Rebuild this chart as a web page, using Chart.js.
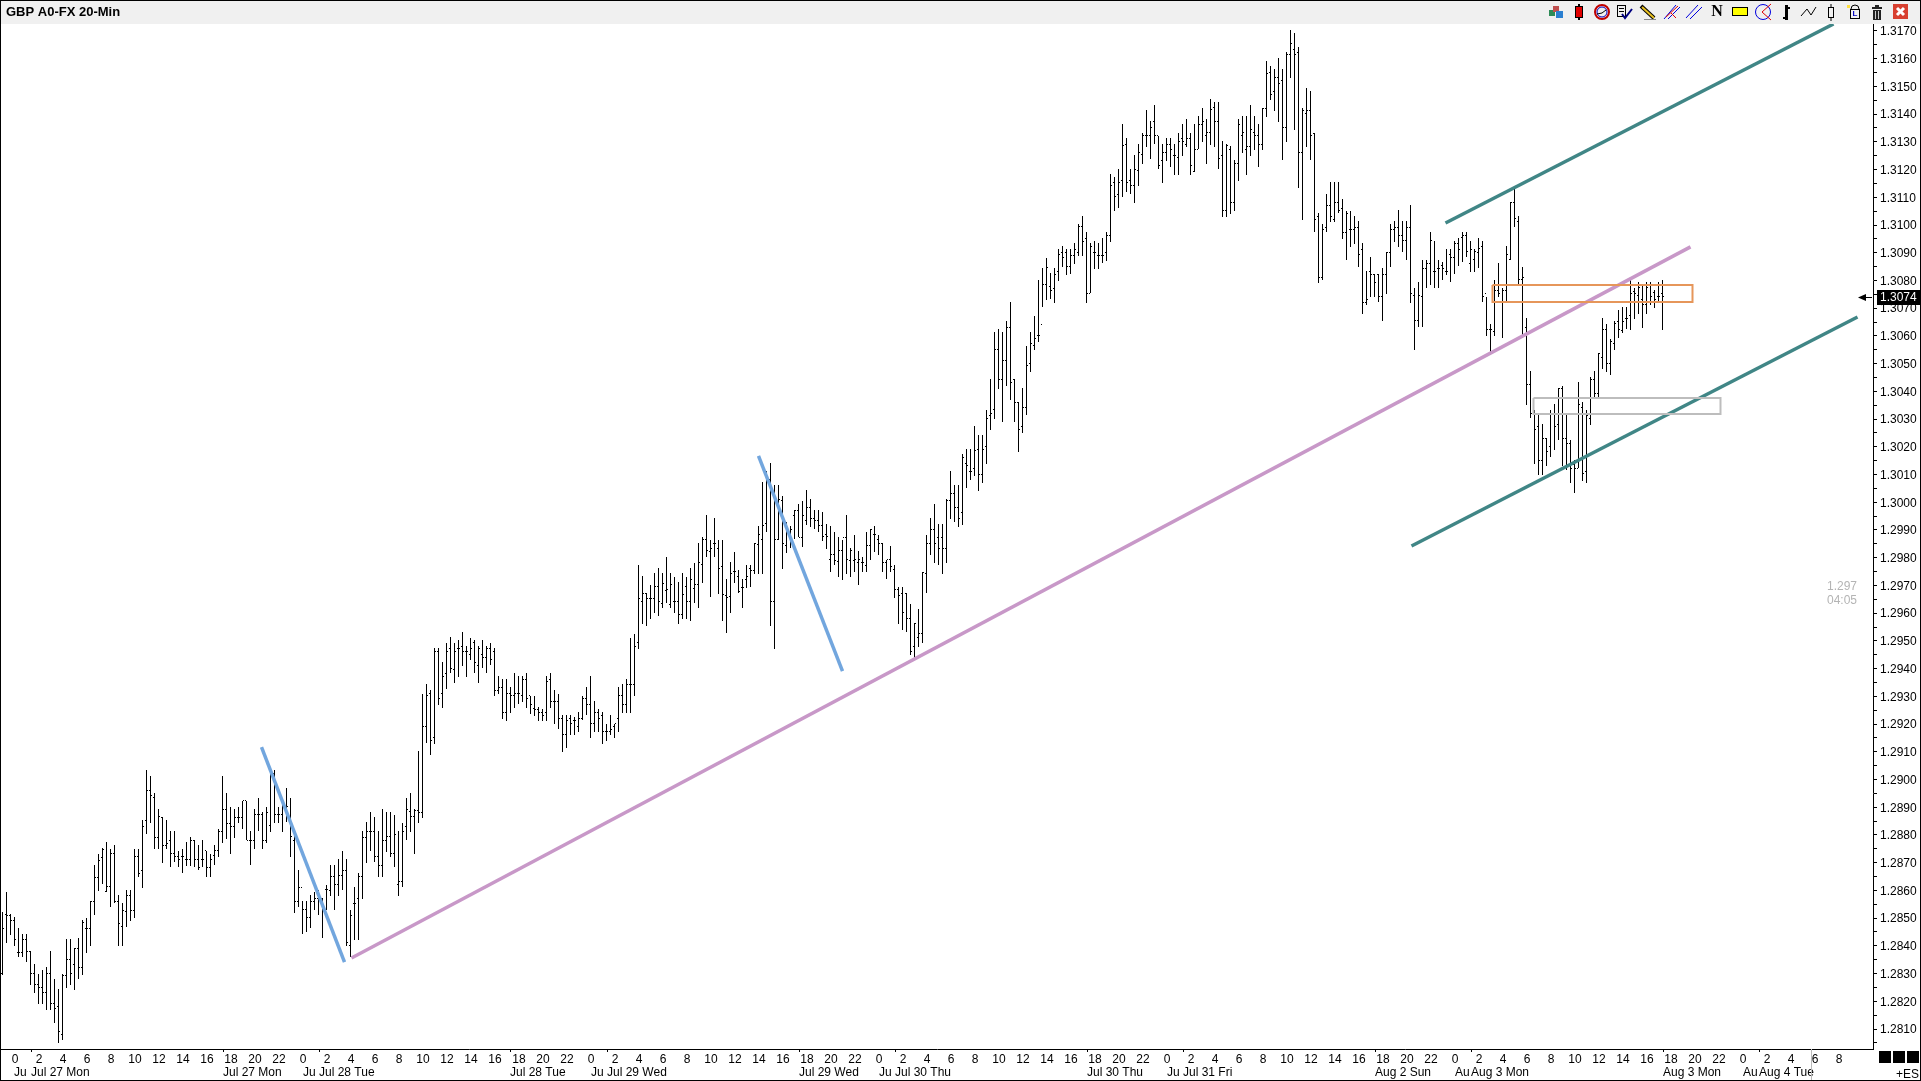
<!DOCTYPE html>
<html>
<head>
<meta charset="utf-8">
<title>GBP A0-FX 20-Min</title>
<script src="https://cdn.jsdelivr.net/npm/chart.js"></script>
<style>
  body { margin: 0; background: #fff; overflow: hidden; }
  canvas { display: block; }
</style>
</head>
<body>
<canvas id="chart" width="1921" height="1081"></canvas>
<script>
// 20 minute bars
const highs = [
1.28523,1.28595,1.28514,1.28505,1.28463,1.28442,1.28442,1.28381,1.28333,1.28300,
1.28312,1.28322,1.28381,1.28282,1.28244,1.28300,1.28423,1.28423,1.28393,1.28430,
1.28493,1.28502,1.28561,1.28691,1.28733,1.28753,1.28773,1.28751,1.28763,1.28583,
1.28553,1.28601,1.28601,1.28751,1.28751,1.28854,1.29034,1.29012,1.28953,1.28892,
1.28866,1.28854,1.28814,1.28814,1.28743,1.28751,1.28773,1.28791,1.28781,1.28763,
1.28781,1.28743,1.28733,1.28763,1.28820,1.29012,1.28953,1.28902,1.28892,1.28902,
1.28923,1.28923,1.28814,1.28892,1.28933,1.28884,1.28902,1.29041,1.29034,1.28902,
1.28923,1.28971,1.28933,1.28803,1.28673,1.28561,1.28561,1.28583,1.28593,1.28601,
1.28571,1.28619,1.28691,1.28691,1.28713,1.28743,1.28713,1.28531,1.28613,1.28661,
1.28814,1.28845,1.28884,1.28863,1.28814,1.28892,1.28884,1.28884,1.28872,1.28814,
1.28842,1.28932,1.28953,1.28892,1.29102,1.29310,1.29344,1.29322,1.29473,1.29473,
1.29425,1.29493,1.29515,1.29491,1.29503,1.29532,1.29481,1.29512,1.29503,1.29481,
1.29503,1.29481,1.29493,1.29473,1.29373,1.29362,1.29362,1.29332,1.29383,1.29373,
1.29373,1.29383,1.29303,1.29303,1.29260,1.29253,1.29373,1.29383,1.29322,1.29310,
1.29232,1.29232,1.29232,1.29224,1.29242,1.29303,1.29332,1.29373,1.29283,1.29253,
1.29242,1.29202,1.29232,1.29202,1.29332,1.29344,1.29361,1.29512,1.29525,1.29774,
1.29734,1.29672,1.29702,1.29744,1.29762,1.29744,1.29802,1.29744,1.29732,1.29713,
1.29744,1.29732,1.29762,1.29780,1.29852,1.29874,1.29954,1.29864,1.29942,1.29864,
1.29864,1.29722,1.29786,1.29822,1.29754,1.29722,1.29774,1.29774,1.29852,1.29915,
1.30072,1.30113,1.30141,1.30063,1.30063,1.30023,1.29930,1.29915,1.29972,1.29993,
1.30005,1.30045,1.30012,1.29972,1.29972,1.29964,1.29922,1.29915,1.29892,1.29874,
1.29864,1.29954,1.29834,1.29882,1.29825,1.29804,1.29892,1.29903,1.29915,1.29882,
1.29852,1.29792,1.29843,1.29774,1.29696,1.29696,1.29672,1.29633,1.29566,1.29615,
1.29750,1.29882,1.29942,1.29994,1.29922,1.29922,1.30011,1.30113,1.30063,1.30063,
1.30174,1.30192,1.30192,1.30275,1.30243,1.30243,1.30333,1.30445,1.30613,1.30625,
1.30613,1.30654,1.30722,1.30444,1.30361,1.30411,1.30564,1.30613,1.30673,1.30802,
1.30845,1.30881,1.30826,1.30846,1.30913,1.30924,1.30913,1.30913,1.30934,1.31002,
1.31032,1.30974,1.30934,1.30942,1.30934,1.30952,1.30974,1.31184,1.31172,1.31202,
1.31364,1.31313,1.31202,1.31253,1.31292,1.31333,1.31415,1.31375,1.31433,1.31322,
1.31292,1.31313,1.31313,1.31292,1.31333,1.31364,1.31382,1.31333,1.31364,1.31393,
1.31421,1.31382,1.31453,1.31443,1.31443,1.31303,1.31291,1.31285,1.31234,1.31382,
1.31393,1.31393,1.31433,1.31393,1.31363,1.31421,1.31592,1.31574,1.31563,1.31603,
1.31563,1.31623,1.31704,1.31692,1.31641,1.31421,1.31493,1.31484,1.31331,1.31043,
1.31003,1.31112,1.31154,1.31154,1.31154,1.31094,1.31052,1.31052,1.31033,1.31014,
1.30934,1.30835,1.30884,1.30823,1.30823,1.30844,1.30902,1.31003,1.31015,1.31055,
1.31015,1.31015,1.31073,1.30772,1.30794,1.30874,1.30874,1.30974,1.30943,1.30874,
1.30865,1.30913,1.30913,1.30943,1.30952,1.30974,1.30974,1.30943,1.30913,1.30952,
1.30943,1.30742,1.30643,1.30802,1.30862,1.30772,1.30925,1.31082,1.31135,1.31033,
1.30850,1.30664,1.30474,1.30333,1.30321,1.30283,1.30233,1.30333,1.30354,1.30411,
1.30421,1.30315,1.30225,1.30153,1.30433,1.30361,1.30331,1.30451,1.30474,1.30540,
1.30664,1.30643,1.30588,1.30655,1.30694,1.30704,1.30704,1.30802,1.30772,1.30794,
1.30784,1.30794,1.30794,1.30764,1.30794,1.30802];
const lows = [
1.28294,1.28411,1.28439,1.28400,1.28361,1.28361,1.28340,1.28258,1.28231,1.28192,
1.28192,1.28168,1.28168,1.28120,1.28050,1.28062,1.28249,1.28258,1.28240,1.28282,
1.28294,1.28373,1.28400,1.28513,1.28599,1.28623,1.28593,1.28541,1.28553,1.28400,
1.28400,1.28469,1.28490,1.28501,1.28649,1.28609,1.28802,1.28842,1.28751,1.28751,
1.28700,1.28751,1.28683,1.28703,1.28683,1.28661,1.28688,1.28688,1.28683,1.28673,
1.28683,1.28649,1.28649,1.28690,1.28721,1.28772,1.28787,1.28733,1.28790,1.28842,
1.28823,1.28781,1.28690,1.28751,1.28814,1.28751,1.28772,1.28811,1.28842,1.28842,
1.28811,1.28848,1.28721,1.28519,1.28541,1.28441,1.28451,1.28463,1.28531,1.28511,
1.28430,1.28529,1.28579,1.28529,1.28579,1.28601,1.28399,1.28361,1.28421,1.28421,
1.28569,1.28700,1.28743,1.28703,1.28649,1.28649,1.28739,1.28721,1.28683,1.28579,
1.28611,1.28781,1.28811,1.28731,1.28842,1.28862,1.29130,1.29088,1.29128,1.29268,
1.29259,1.29328,1.29383,1.29349,1.29371,1.29409,1.29371,1.29431,1.29383,1.29349,
1.29403,1.29383,1.29413,1.29301,1.29310,1.29219,1.29212,1.29241,1.29259,1.29271,
1.29280,1.29259,1.29238,1.29229,1.29212,1.29212,1.29212,1.29259,1.29202,1.29181,
1.29100,1.29112,1.29160,1.29160,1.29172,1.29214,1.29232,1.29151,1.29172,1.29172,
1.29128,1.29140,1.29160,1.29151,1.29172,1.29241,1.29241,1.29241,1.29301,1.29471,
1.29561,1.29552,1.29579,1.29600,1.29590,1.29620,1.29636,1.29620,1.29600,1.29561,
1.29579,1.29579,1.29570,1.29636,1.29620,1.29708,1.29802,1.29660,1.29801,1.29669,
1.29570,1.29530,1.29602,1.29710,1.29672,1.29620,1.29690,1.29694,1.29742,1.29742,
1.29742,1.29891,1.29552,1.29471,1.29864,1.29760,1.29816,1.29834,1.29867,1.29873,
1.29840,1.29918,1.29910,1.29904,1.29891,1.29861,1.29832,1.29750,1.29772,1.29732,
1.29720,1.29740,1.29732,1.29750,1.29700,1.29750,1.29750,1.29790,1.29822,1.29810,
1.29750,1.29722,1.29750,1.29654,1.29561,1.29540,1.29531,1.29449,1.29431,1.29477,
1.29494,1.29672,1.29810,1.29782,1.29772,1.29742,1.29782,1.29940,1.29930,1.29912,
1.29918,1.30053,1.30081,1.30093,1.30042,1.30071,1.30138,1.30261,1.30301,1.30409,
1.30291,1.30420,1.30369,1.30291,1.30183,1.30251,1.30313,1.30471,1.30550,1.30577,
1.30704,1.30730,1.30732,1.30720,1.30799,1.30850,1.30820,1.30822,1.30859,1.30889,
1.30889,1.30720,1.30753,1.30841,1.30841,1.30862,1.30870,1.30940,1.31052,1.31063,
1.31102,1.31120,1.31111,1.31081,1.31142,1.31220,1.31283,1.31238,1.31291,1.31201,
1.31153,1.31232,1.31210,1.31180,1.31180,1.31250,1.31283,1.31180,1.31192,1.31273,
1.31301,1.31220,1.31289,1.31283,1.31201,1.31030,1.31030,1.31040,1.31052,1.31160,
1.31261,1.31180,1.31250,1.31271,1.31210,1.31271,1.31391,1.31451,1.31413,1.31373,
1.31233,1.31301,1.31532,1.31341,1.31132,1.31018,1.31283,1.31233,1.30973,1.30792,
1.30800,1.30974,1.31012,1.31012,1.31043,1.30951,1.30872,1.30922,1.30932,1.30850,
1.30680,1.30712,1.30742,1.30742,1.30722,1.30652,1.30752,1.30850,1.30940,1.30922,
1.30901,1.30872,1.30720,1.30550,1.30631,1.30631,1.30772,1.30782,1.30772,1.30772,
1.30802,1.30820,1.30793,1.30823,1.30853,1.30865,1.30883,1.30832,1.30832,1.30844,
1.30722,1.30601,1.30532,1.30601,1.30742,1.30592,1.30724,1.30872,1.30992,1.30781,
1.30592,1.30351,1.30303,1.30138,1.30099,1.30099,1.30131,1.30162,1.30189,1.30223,
1.30131,1.30117,1.30071,1.30033,1.30123,1.30075,1.30071,1.30279,1.30381,1.30381,
1.30481,1.30471,1.30459,1.30550,1.30592,1.30612,1.30624,1.30622,1.30661,1.30680,
1.30630,1.30680,1.30712,1.30702,1.30722,1.30622];
const opens = [
1.28300,1.28514,1.28511,1.28493,1.28375,1.28375,1.28423,1.28381,1.28300,1.28262,
1.28250,1.28232,1.28300,1.28192,1.28180,1.28080,1.28294,1.28351,1.28334,1.28391,
1.28322,1.28463,1.28463,1.28561,1.28647,1.28719,1.28595,1.28613,1.28733,1.28559,
1.28471,1.28523,1.28583,1.28529,1.28721,1.28673,1.28851,1.28962,1.28935,1.28791,
1.28863,1.28763,1.28779,1.28733,1.28721,1.28721,1.28713,1.28713,1.28781,1.28713,
1.28713,1.28743,1.28683,1.28727,1.28743,1.28814,1.28892,1.28842,1.28832,1.28863,
1.28863,1.28923,1.28781,1.28781,1.28874,1.28874,1.28781,1.28833,1.29022,1.28872,
1.28872,1.28902,1.28848,1.28781,1.28559,1.28611,1.28531,1.28502,1.28561,1.28571,
1.28571,1.28603,1.28601,1.28649,1.28623,1.28652,1.28673,1.28403,1.28553,1.28571,
1.28649,1.28791,1.28814,1.28814,1.28724,1.28691,1.28781,1.28793,1.28733,1.28623,
1.28631,1.28832,1.28884,1.28866,1.28890,1.28881,1.29191,1.29310,1.29152,1.29462,
1.29310,1.29383,1.29473,1.29395,1.29473,1.29481,1.29462,1.29451,1.29493,1.29413,
1.29451,1.29440,1.29473,1.29461,1.29320,1.29332,1.29242,1.29310,1.29303,1.29310,
1.29303,1.29361,1.29303,1.29256,1.29253,1.29242,1.29242,1.29361,1.29283,1.29283,
1.29220,1.29163,1.29220,1.29214,1.29193,1.29220,1.29292,1.29271,1.29202,1.29242,
1.29232,1.29172,1.29172,1.29193,1.29220,1.29303,1.29271,1.29344,1.29344,1.29494,
1.29642,1.29672,1.29654,1.29654,1.29696,1.29636,1.29681,1.29633,1.29642,1.29642,
1.29594,1.29696,1.29642,1.29690,1.29702,1.29774,1.29864,1.29822,1.29852,1.29834,
1.29770,1.29662,1.29660,1.29750,1.29732,1.29694,1.29720,1.29762,1.29754,1.29846,
1.29864,1.29924,1.30083,1.29642,1.29864,1.30005,1.29843,1.29882,1.29954,1.29972,
1.29873,1.29933,1.29982,1.29942,1.29933,1.29915,1.29882,1.29792,1.29813,1.29786,
1.29825,1.29873,1.29790,1.29790,1.29784,1.29784,1.29772,1.29843,1.29882,1.29864,
1.29852,1.29784,1.29792,1.29756,1.29684,1.29672,1.29672,1.29582,1.29479,1.29513,
1.29525,1.29744,1.29852,1.29903,1.29874,1.29874,1.29834,1.30005,1.30033,1.29982,
1.29964,1.30141,1.30111,1.30123,1.30191,1.30101,1.30201,1.30312,1.30333,1.30552,
1.30444,1.30511,1.30631,1.30444,1.30361,1.30273,1.30343,1.30502,1.30564,1.30601,
1.30640,1.30784,1.30778,1.30772,1.30832,1.30901,1.30901,1.30852,1.30891,1.30901,
1.30993,1.30952,1.30753,1.30901,1.30891,1.30891,1.30901,1.30962,1.31154,1.31111,
1.31162,1.31292,1.31162,1.31142,1.31195,1.31253,1.31322,1.31322,1.31373,1.31322,
1.31232,1.31262,1.31291,1.31251,1.31242,1.31313,1.31291,1.31313,1.31192,1.31273,
1.31363,1.31322,1.31333,1.31423,1.31373,1.31250,1.31053,1.31273,1.31082,1.31222,
1.31322,1.31273,1.31283,1.31333,1.31322,1.31291,1.31421,1.31551,1.31481,1.31533,
1.31521,1.31353,1.31614,1.31634,1.31623,1.31263,1.31403,1.31413,1.31331,1.31031,
1.30812,1.30992,1.31071,1.31021,1.31082,1.31061,1.30974,1.30982,1.30982,1.30992,
1.30913,1.30722,1.30832,1.30823,1.30823,1.30742,1.30823,1.30902,1.30983,1.30992,
1.30963,1.30943,1.30992,1.30744,1.30654,1.30742,1.30844,1.30862,1.30832,1.30843,
1.30854,1.30832,1.30892,1.30884,1.30934,1.30954,1.30963,1.30862,1.30874,1.30902,
1.30922,1.30754,1.30624,1.30616,1.30762,1.30722,1.30764,1.30874,1.31082,1.31013,
1.30802,1.30631,1.30423,1.30321,1.30273,1.30150,1.30231,1.30201,1.30321,1.30279,
1.30411,1.30231,1.30213,1.30135,1.30123,1.30343,1.30111,1.30303,1.30444,1.30393,
1.30523,1.30624,1.30502,1.30574,1.30652,1.30619,1.30664,1.30672,1.30760,1.30744,
1.30732,1.30714,1.30784,1.30756,1.30742,1.30754];
const closes = [
1.28463,1.28511,1.28493,1.28424,1.28375,1.28423,1.28381,1.28300,1.28262,1.28250,
1.28232,1.28300,1.28192,1.28174,1.28090,1.28294,1.28351,1.28300,1.28391,1.28322,
1.28483,1.28463,1.28561,1.28647,1.28709,1.28748,1.28613,1.28733,1.28559,1.28481,
1.28529,1.28583,1.28529,1.28721,1.28661,1.28832,1.28962,1.28944,1.28791,1.28866,
1.28761,1.28769,1.28733,1.28721,1.28713,1.28721,1.28713,1.28781,1.28713,1.28683,
1.28713,1.28683,1.28712,1.28743,1.28814,1.28892,1.28842,1.28832,1.28863,1.28863,
1.28923,1.28781,1.28781,1.28874,1.28874,1.28781,1.28881,1.29022,1.28872,1.28872,
1.28914,1.28902,1.28793,1.28559,1.28611,1.28531,1.28502,1.28561,1.28571,1.28583,
1.28541,1.28603,1.28649,1.28623,1.28652,1.28673,1.28411,1.28511,1.28553,1.28649,
1.28791,1.28814,1.28814,1.28724,1.28691,1.28781,1.28793,1.28733,1.28803,1.28631,
1.28814,1.28892,1.28866,1.28890,1.28881,1.29191,1.29303,1.29142,1.29462,1.29292,
1.29373,1.29462,1.29401,1.29462,1.29473,1.29462,1.29462,1.29473,1.29422,1.29473,
1.29440,1.29473,1.29433,1.29322,1.29332,1.29242,1.29310,1.29303,1.29310,1.29310,
1.29361,1.29292,1.29271,1.29253,1.29242,1.29232,1.29353,1.29283,1.29283,1.29220,
1.29163,1.29214,1.29202,1.29214,1.29220,1.29292,1.29271,1.29202,1.29242,1.29220,
1.29172,1.29172,1.29182,1.29202,1.29303,1.29271,1.29344,1.29344,1.29481,1.29654,
1.29672,1.29654,1.29654,1.29696,1.29642,1.29706,1.29684,1.29702,1.29642,1.29594,
1.29669,1.29642,1.29722,1.29702,1.29784,1.29864,1.29825,1.29834,1.29852,1.29762,
1.29669,1.29657,1.29744,1.29752,1.29678,1.29694,1.29734,1.29754,1.29852,1.29882,
1.29915,1.30083,1.29642,1.29864,1.30011,1.29852,1.29903,1.29903,1.29972,1.29873,
1.29954,1.29982,1.29942,1.29933,1.29915,1.29876,1.29876,1.29810,1.29790,1.29825,
1.29873,1.29792,1.29825,1.29792,1.29792,1.29783,1.29843,1.29900,1.29882,1.29852,
1.29784,1.29792,1.29770,1.29684,1.29662,1.29603,1.29582,1.29461,1.29564,1.29525,
1.29748,1.29852,1.29903,1.29852,1.29834,1.29834,1.30005,1.30033,1.29982,1.29942,
1.30162,1.30132,1.30111,1.30185,1.30101,1.30191,1.30303,1.30321,1.30552,1.30444,
1.30511,1.30631,1.30433,1.30361,1.30263,1.30343,1.30493,1.30574,1.30592,1.30603,
1.30784,1.30845,1.30762,1.30822,1.30892,1.30883,1.30852,1.30891,1.30912,1.30993,
1.30942,1.30753,1.30924,1.30901,1.30891,1.30891,1.30962,1.31142,1.31102,1.31154,
1.31285,1.31154,1.31142,1.31201,1.31262,1.31322,1.31322,1.31352,1.31322,1.31213,
1.31262,1.31291,1.31271,1.31251,1.31303,1.31303,1.31313,1.31213,1.31273,1.31363,
1.31373,1.31333,1.31415,1.31373,1.31240,1.31053,1.31285,1.31082,1.31222,1.31363,
1.31333,1.31283,1.31343,1.31322,1.31291,1.31421,1.31545,1.31472,1.31533,1.31512,
1.31353,1.31614,1.31653,1.31614,1.31263,1.31413,1.31413,1.31323,1.31021,1.30812,
1.30982,1.31071,1.31031,1.31082,1.31052,1.30974,1.31043,1.30982,1.30992,1.30892,
1.30722,1.30732,1.30823,1.30794,1.30742,1.30823,1.30902,1.30983,1.30992,1.30963,
1.30943,1.30992,1.30754,1.30654,1.30744,1.30844,1.30862,1.30943,1.30832,1.30844,
1.30844,1.30832,1.30884,1.30934,1.30913,1.30963,1.30904,1.30913,1.30904,1.30914,
1.30742,1.30624,1.30624,1.30762,1.30752,1.30764,1.30892,1.31082,1.31022,1.30802,
1.30812,1.30423,1.30321,1.30263,1.30150,1.30231,1.30183,1.30321,1.30273,1.30411,
1.30231,1.30213,1.30123,1.30123,1.30354,1.30102,1.30313,1.30441,1.30393,1.30538,
1.30624,1.30502,1.30580,1.30643,1.30624,1.30652,1.30664,1.30754,1.30754,1.30776,
1.30714,1.30776,1.30742,1.30732,1.30742,1.30742];

// trend lines and boxes: bar number / price pairs
const blueLeftBars = [64.75, 85.5];
const blueLeftPrices = [1.29117, 1.28341];
const blueRightBars = [189, 210];
const blueRightPrices = [1.30167, 1.29391];
const pinkBars = [87.25, 422];
const pinkPrices = [1.28356, 1.30921];
const tealTopBars = [360.75, 457.75];
const tealTopPrices = [1.31007, 1.31725];
const tealLowBars = [352.25, 463.75];
const tealLowPrices = [1.29842, 1.30668];
const orangeBoxBars = [372.5, 422.5, 422.5, 372.5, 372.5];
const orangeBoxPrices = [1.30784, 1.30784, 1.30722, 1.30722, 1.30784];
const grayBoxBars = [382.75, 429.5, 429.5, 382.75, 382.75];
const grayBoxPrices = [1.30376, 1.30376, 1.30318, 1.30318, 1.30376];

const priceLabels = ["1.2810","1.2820","1.2830","1.2840","1.2850","1.2860","1.2870","1.2880","1.2890","1.2900",
  "1.2910","1.2920","1.2930","1.2940","1.2950","1.2960","1.2970","1.2980","1.2990","1.3000",
  "1.3010","1.3020","1.3030","1.3040","1.3050","1.3060","1.3070","1.3080","1.3090","1.3100",
  "1.3110","1.3120","1.3130","1.3140","1.3150","1.3160","1.3170"];
const hourLabels = ["0","2","4","6","8","10","12","14","16","18","20","22",
  "0","2","4","6","8","10","12","14","16","18","20","22",
  "0","2","4","6","8","10","12","14","16","18","20","22",
  "0","2","4","6","8","10","12","14","16","18","20","22",
  "0","2","4","6","8","10","12","14","16","18","20","22",
  "0","2","4","6","8","10","12","14","16","18","20","22",
  "0","2","4","6","8"];
const dateLabels = ["Ju","Jul 27 Mon","Jul 27 Mon","Ju","Jul 28 Tue","Jul 28 Tue","Ju","Jul 29 Wed","Jul 29 Wed","Ju",
  "Jul 30 Thu","Jul 30 Thu","Ju","Jul 31 Fri","Aug 2 Sun","Au","Aug 3 Mon","Aug 3 Mon","Au","Aug 4 Tue"];
const dateBars = [2.75,7,55,75,79,127,147,151,199,219,223,271,291,295,343,363,367,415,435,439];
const lastPrice = 1.3074;

const FONT = '"Liberation Sans", Arial, sans-serif';

function points(xs, ys) {
  return xs.map((x, i) => ({ x: x, y: ys[i] }));
}

// single black pixel used for the open and close ticks
const dot = document.createElement("canvas");
dot.width = 1;
dot.height = 1;
dot.getContext("2d").fillRect(0, 0, 1, 1);

function trendLine(xs, ys, color, width) {
  return {
    type: "line",
    data: points(xs, ys),
    borderColor: color,
    borderWidth: width,
    pointRadius: 0,
    tension: 0,
    order: 1,
    borderJoinStyle: "miter",
  };
}

// keep the bars sharp, like the old terminal they come from
const snapMarks = {
  id: "snapMarks",
  beforeDatasetsDraw(chart) {
    chart.data.datasets.forEach((ds, i) => {
      const meta = chart.getDatasetMeta(i);
      if (meta.type === "bar") {
        meta.data.forEach((el) => {
          el.y = Math.round(el.y);
          el.base = Math.round(el.base);
        });
      } else if (meta.type === "scatter") {
        meta.data.forEach((el) => {
          el.y = Math.floor(el.y) + 0.5;
        });
      }
    });
  },
};

function drawToolbar(ctx) {
  const mid = 12;
  // cubes
  ctx.fillStyle = "#2e8b57"; ctx.fillRect(1549, mid - 2, 6, 6);
  ctx.fillStyle = "#c05050"; ctx.fillRect(1553, mid - 6, 6, 6);
  ctx.fillStyle = "#2a7fd0"; ctx.fillRect(1556, mid - 1, 7, 7);
  // red candle
  ctx.fillStyle = "#000"; ctx.fillRect(1578, mid - 8, 2, 16);
  ctx.fillStyle = "#e00000"; ctx.fillRect(1576, mid - 5, 6, 10);
  ctx.strokeStyle = "#000"; ctx.lineWidth = 1; ctx.strokeRect(1575.5, mid - 5.5, 7, 11);
  // clock
  ctx.lineWidth = 2; ctx.strokeStyle = "#c00000";
  ctx.beginPath(); ctx.arc(1602, mid, 7, 0, Math.PI * 2); ctx.stroke();
  ctx.lineWidth = 1; ctx.strokeStyle = "#0000c0";
  ctx.beginPath(); ctx.arc(1602, mid, 5, 0, Math.PI * 2); ctx.stroke();
  ctx.strokeStyle = "#000";
  ctx.beginPath(); ctx.moveTo(1597, mid + 2); ctx.lineTo(1602, mid + 1); ctx.lineTo(1606, mid - 2); ctx.stroke();
  // checklist
  ctx.strokeStyle = "#000"; ctx.strokeRect(1617.5, 5.5, 8, 11);
  ctx.beginPath(); ctx.moveTo(1619, 8.5); ctx.lineTo(1624, 8.5); ctx.moveTo(1619, 11.5); ctx.lineTo(1624, 11.5); ctx.stroke();
  ctx.strokeStyle = "#000080"; ctx.lineWidth = 2;
  ctx.beginPath(); ctx.moveTo(1622, 14); ctx.lineTo(1625, 18); ctx.lineTo(1632, 9); ctx.stroke();
  // pencil
  ctx.strokeStyle = "#000"; ctx.lineWidth = 4;
  ctx.beginPath(); ctx.moveTo(1641, 6); ctx.lineTo(1654, 18); ctx.stroke();
  ctx.strokeStyle = "#e8c020"; ctx.lineWidth = 2;
  ctx.beginPath(); ctx.moveTo(1642, 7); ctx.lineTo(1654, 18); ctx.stroke();
  ctx.lineWidth = 1; ctx.strokeStyle = "#888";
  ctx.beginPath(); ctx.moveTo(1644, 19.5); ctx.lineTo(1656, 19.5); ctx.stroke();
  // fork
  ctx.strokeStyle = "#0000e0";
  ctx.beginPath(); ctx.moveTo(1664, 19); ctx.lineTo(1676, 5); ctx.moveTo(1668, 19); ctx.lineTo(1680, 7); ctx.stroke();
  ctx.strokeStyle = "#e00000";
  ctx.beginPath(); ctx.moveTo(1666, 17); ctx.lineTo(1678, 6); ctx.moveTo(1671, 13); ctx.lineTo(1676, 18); ctx.stroke();
  // parallel lines
  ctx.strokeStyle = "#0000e0";
  ctx.beginPath(); ctx.moveTo(1686, 18); ctx.lineTo(1698, 5); ctx.moveTo(1690, 19); ctx.lineTo(1702, 7); ctx.stroke();
  // N
  ctx.fillStyle = "#000"; ctx.font = 'bold 16px "Liberation Serif", serif';
  ctx.textAlign = "center"; ctx.textBaseline = "middle";
  ctx.fillText("N", 1717, 12);
  // yellow box
  ctx.fillStyle = "#ffff00"; ctx.fillRect(1733, 7, 15, 8);
  ctx.strokeStyle = "#000"; ctx.lineWidth = 1; ctx.strokeRect(1732.5, 7.5, 15, 8);
  // circle with red wedge
  ctx.strokeStyle = "#0000e0";
  ctx.beginPath(); ctx.arc(1763, 12, 7.5, 0, Math.PI * 2); ctx.stroke();
  ctx.strokeStyle = "#e00000";
  ctx.beginPath(); ctx.moveTo(1771, 4); ctx.lineTo(1762, 12); ctx.lineTo(1771, 20); ctx.stroke();
  // bar
  ctx.fillStyle = "#000"; ctx.fillRect(1785, 5, 3, 15);
  ctx.fillRect(1783, 17, 2, 2); ctx.fillRect(1788, 7, 2, 2);
  // zigzag
  ctx.strokeStyle = "#000";
  ctx.beginPath(); ctx.moveTo(1801, 16); ctx.lineTo(1807, 9); ctx.lineTo(1811, 15); ctx.lineTo(1816, 7); ctx.stroke();
  // hollow candle
  ctx.strokeStyle = "#000"; ctx.strokeRect(1828.5, 7.5, 5, 10);
  ctx.beginPath(); ctx.moveTo(1831, 4); ctx.lineTo(1831, 7); ctx.moveTo(1831, 18); ctx.lineTo(1831, 21); ctx.stroke();
  // lock
  ctx.fillStyle = "#ffe040"; ctx.fillRect(1847, 5, 3, 3);
  ctx.strokeStyle = "#000";
  ctx.beginPath(); ctx.arc(1855, 9, 4, Math.PI, 0); ctx.stroke();
  ctx.strokeRect(1850.5, 9.5, 9, 9);
  ctx.fillStyle = "#0000c0"; ctx.font = "bold 8px " + FONT; ctx.fillText("L", 1855, 14);
  // trash can
  ctx.fillStyle = "#222"; ctx.fillRect(1872, 7, 10, 2); ctx.fillRect(1875, 5, 4, 2);
  ctx.fillRect(1873, 10, 8, 10);
  ctx.fillStyle = "#ccc"; ctx.fillRect(1875, 11, 1, 8); ctx.fillRect(1878, 11, 1, 8);
  // close button
  ctx.fillStyle = "#d84030"; ctx.fillRect(1893, 4, 15, 15);
  ctx.strokeStyle = "#fff"; ctx.lineWidth = 3;
  ctx.beginPath(); ctx.moveTo(1897, 8); ctx.lineTo(1904, 15); ctx.moveTo(1904, 8); ctx.lineTo(1897, 15); ctx.stroke();
  ctx.lineWidth = 1;
}

const terminalFrame = {
  id: "terminalFrame",
  beforeDraw(chart) {
    const ctx = chart.ctx;
    ctx.save();
    ctx.fillStyle = "#fff";
    ctx.fillRect(0, 0, chart.width, chart.height);
    ctx.restore();
  },
  afterDraw(chart) {
    const ctx = chart.ctx;
    const xScale = chart.scales.x;
    const yScale = chart.scales.y;
    ctx.save();

    // title strip
    ctx.fillStyle = "#f0f0f0";
    ctx.fillRect(0, 0, chart.width, 24);
    ctx.fillStyle = "#000";
    ctx.font = "bold 13px " + FONT;
    ctx.textAlign = "left";
    ctx.textBaseline = "middle";
    ctx.fillText("GBP A0-FX 20-Min", 6, 12.5);
    drawToolbar(ctx);

    // date row under the hours
    ctx.fillStyle = "#000";
    ctx.font = "12px " + FONT;
    ctx.textAlign = "left";
    ctx.textBaseline = "middle";
    dateLabels.forEach((label, i) => {
      const px = Math.round(xScale.getPixelForValue(dateBars[i]));
      ctx.fillText(label, px, 1072.5);
      if (label.length > 2) ctx.fillRect(px, 1049, 1, 3);
    });
    ctx.fillStyle = "#bbb";
    ctx.fillRect(1811, 1049, 1, 31);

    // last price flag
    const lastY = Math.round(yScale.getPixelForValue(lastPrice));
    ctx.fillStyle = "#000";
    ctx.fillRect(1877, lastY - 7, 44, 15);
    ctx.fillRect(1860, lastY, 12, 1);
    ctx.beginPath();
    ctx.moveTo(1858, lastY + 0.5);
    ctx.lineTo(1866, lastY - 3);
    ctx.lineTo(1866, lastY + 4);
    ctx.fill();
    ctx.fillStyle = "#fff";
    ctx.fillText("1.3074", 1880, lastY + 0.5);

    // faint cursor readout
    ctx.fillStyle = "#b4b4b4";
    ctx.textAlign = "right";
    ctx.fillText("1.297", 1857, 587);
    ctx.fillText("04:05", 1857, 601);

    // corner buttons
    ctx.fillStyle = "#000";
    ctx.fillRect(1879, 1051, 12, 12);
    ctx.fillRect(1893, 1051, 12, 12);
    ctx.fillRect(1907, 1051, 12, 12);
    ctx.fillStyle = "#000";
    ctx.textAlign = "right";
    ctx.fillText("+ES", 1919, 1075);

    // window border
    ctx.fillRect(0, 0, chart.width, 1);
    ctx.fillRect(0, 1080, chart.width, 1);
    ctx.fillRect(0, 0, 1, chart.height);
    ctx.fillRect(1920, 0, 1, chart.height);
    ctx.restore();
  },
};

const barNumbers = highs.map((h, i) => i);

new Chart(document.getElementById("chart"), {
  data: {
    datasets: [
      {
        type: "bar",
        data: barNumbers.map((i) => ({ x: i, y: [lows[i], highs[i]] })),
        backgroundColor: "#000",
        borderWidth: 0,
        barThickness: 1,
        inflateAmount: 0,
        order: 3,
      },
      {
        type: "scatter",
        data: barNumbers.map((i) => ({ x: i - 0.25, y: opens[i] })),
        pointStyle: dot,
        pointRadius: 1,
        order: 2,
      },
      {
        type: "scatter",
        data: barNumbers.map((i) => ({ x: i + 0.25, y: closes[i] })),
        pointStyle: dot,
        pointRadius: 1,
        order: 2,
      },
      trendLine(orangeBoxBars, orangeBoxPrices, "#e6965a", 2),
      trendLine(grayBoxBars, grayBoxPrices, "#bdbdbd", 2),
      trendLine(blueLeftBars, blueLeftPrices, "#72a6de", 3.5),
      trendLine(blueRightBars, blueRightPrices, "#72a6de", 3.5),
      trendLine(pinkBars, pinkPrices, "#c898c8", 3.5),
      trendLine(tealTopBars, tealTopPrices, "#408686", 3.5),
      trendLine(tealLowBars, tealLowPrices, "#408686", 3.5),
    ],
  },
  plugins: [snapMarks, terminalFrame],
  options: {
    responsive: false,
    animation: false,
    events: [],
    layout: { autoPadding: false, padding: { left: 1, top: 24, right: 0, bottom: 0 } },
    plugins: { legend: { display: false }, tooltip: { enabled: false }, title: { display: false } },
    scales: {
      x: {
        type: "linear",
        offset: false,
        min: -0.375,
        max: 467.625,
        afterFit: (scale) => {
          scale.height = 32;
          scale.paddingLeft = 0;
          scale.paddingRight = 0;
        },
        afterBuildTicks: (scale) => {
          scale.ticks = hourLabels.map((h, i) => ({ value: 3.125 + 6 * i }));
        },
        grid: { display: false, drawTicks: false },
        border: { display: true, color: "#000", width: 1 },
        ticks: {
          autoSkip: false,
          maxRotation: 0,
          padding: 3,
          color: "#000",
          font: { family: FONT, size: 12 },
          callback: (value, i) => hourLabels[i],
        },
      },
      y: {
        type: "linear",
        position: "right",
        min: 1.28028,
        max: 1.31725,
        afterFit: (scale) => {
          scale.width = 48;
          scale.paddingTop = 0;
          scale.paddingBottom = 0;
        },
        afterBuildTicks: (scale) => {
          const ticks = [];
          priceLabels.forEach((label) => {
            ticks.push({ value: parseFloat(label) });
            ticks.push({ value: parseFloat(label) - 0.0005 });
          });
          ticks.sort((a, b) => a.value - b.value);
          scale.ticks = ticks;
        },
        grid: { drawOnChartArea: false, tickLength: 4, color: "#000" },
        border: { display: true, color: "#000", width: 1 },
        ticks: {
          autoSkip: false,
          padding: 3,
          labelOffset: 1,
          color: "#000",
          font: { family: FONT, size: 12 },
          callback: (value, i) => (i % 2 === 1 ? priceLabels[(i - 1) / 2] : ""),
        },
      },
    },
  },
});
</script>
</body>
</html>
